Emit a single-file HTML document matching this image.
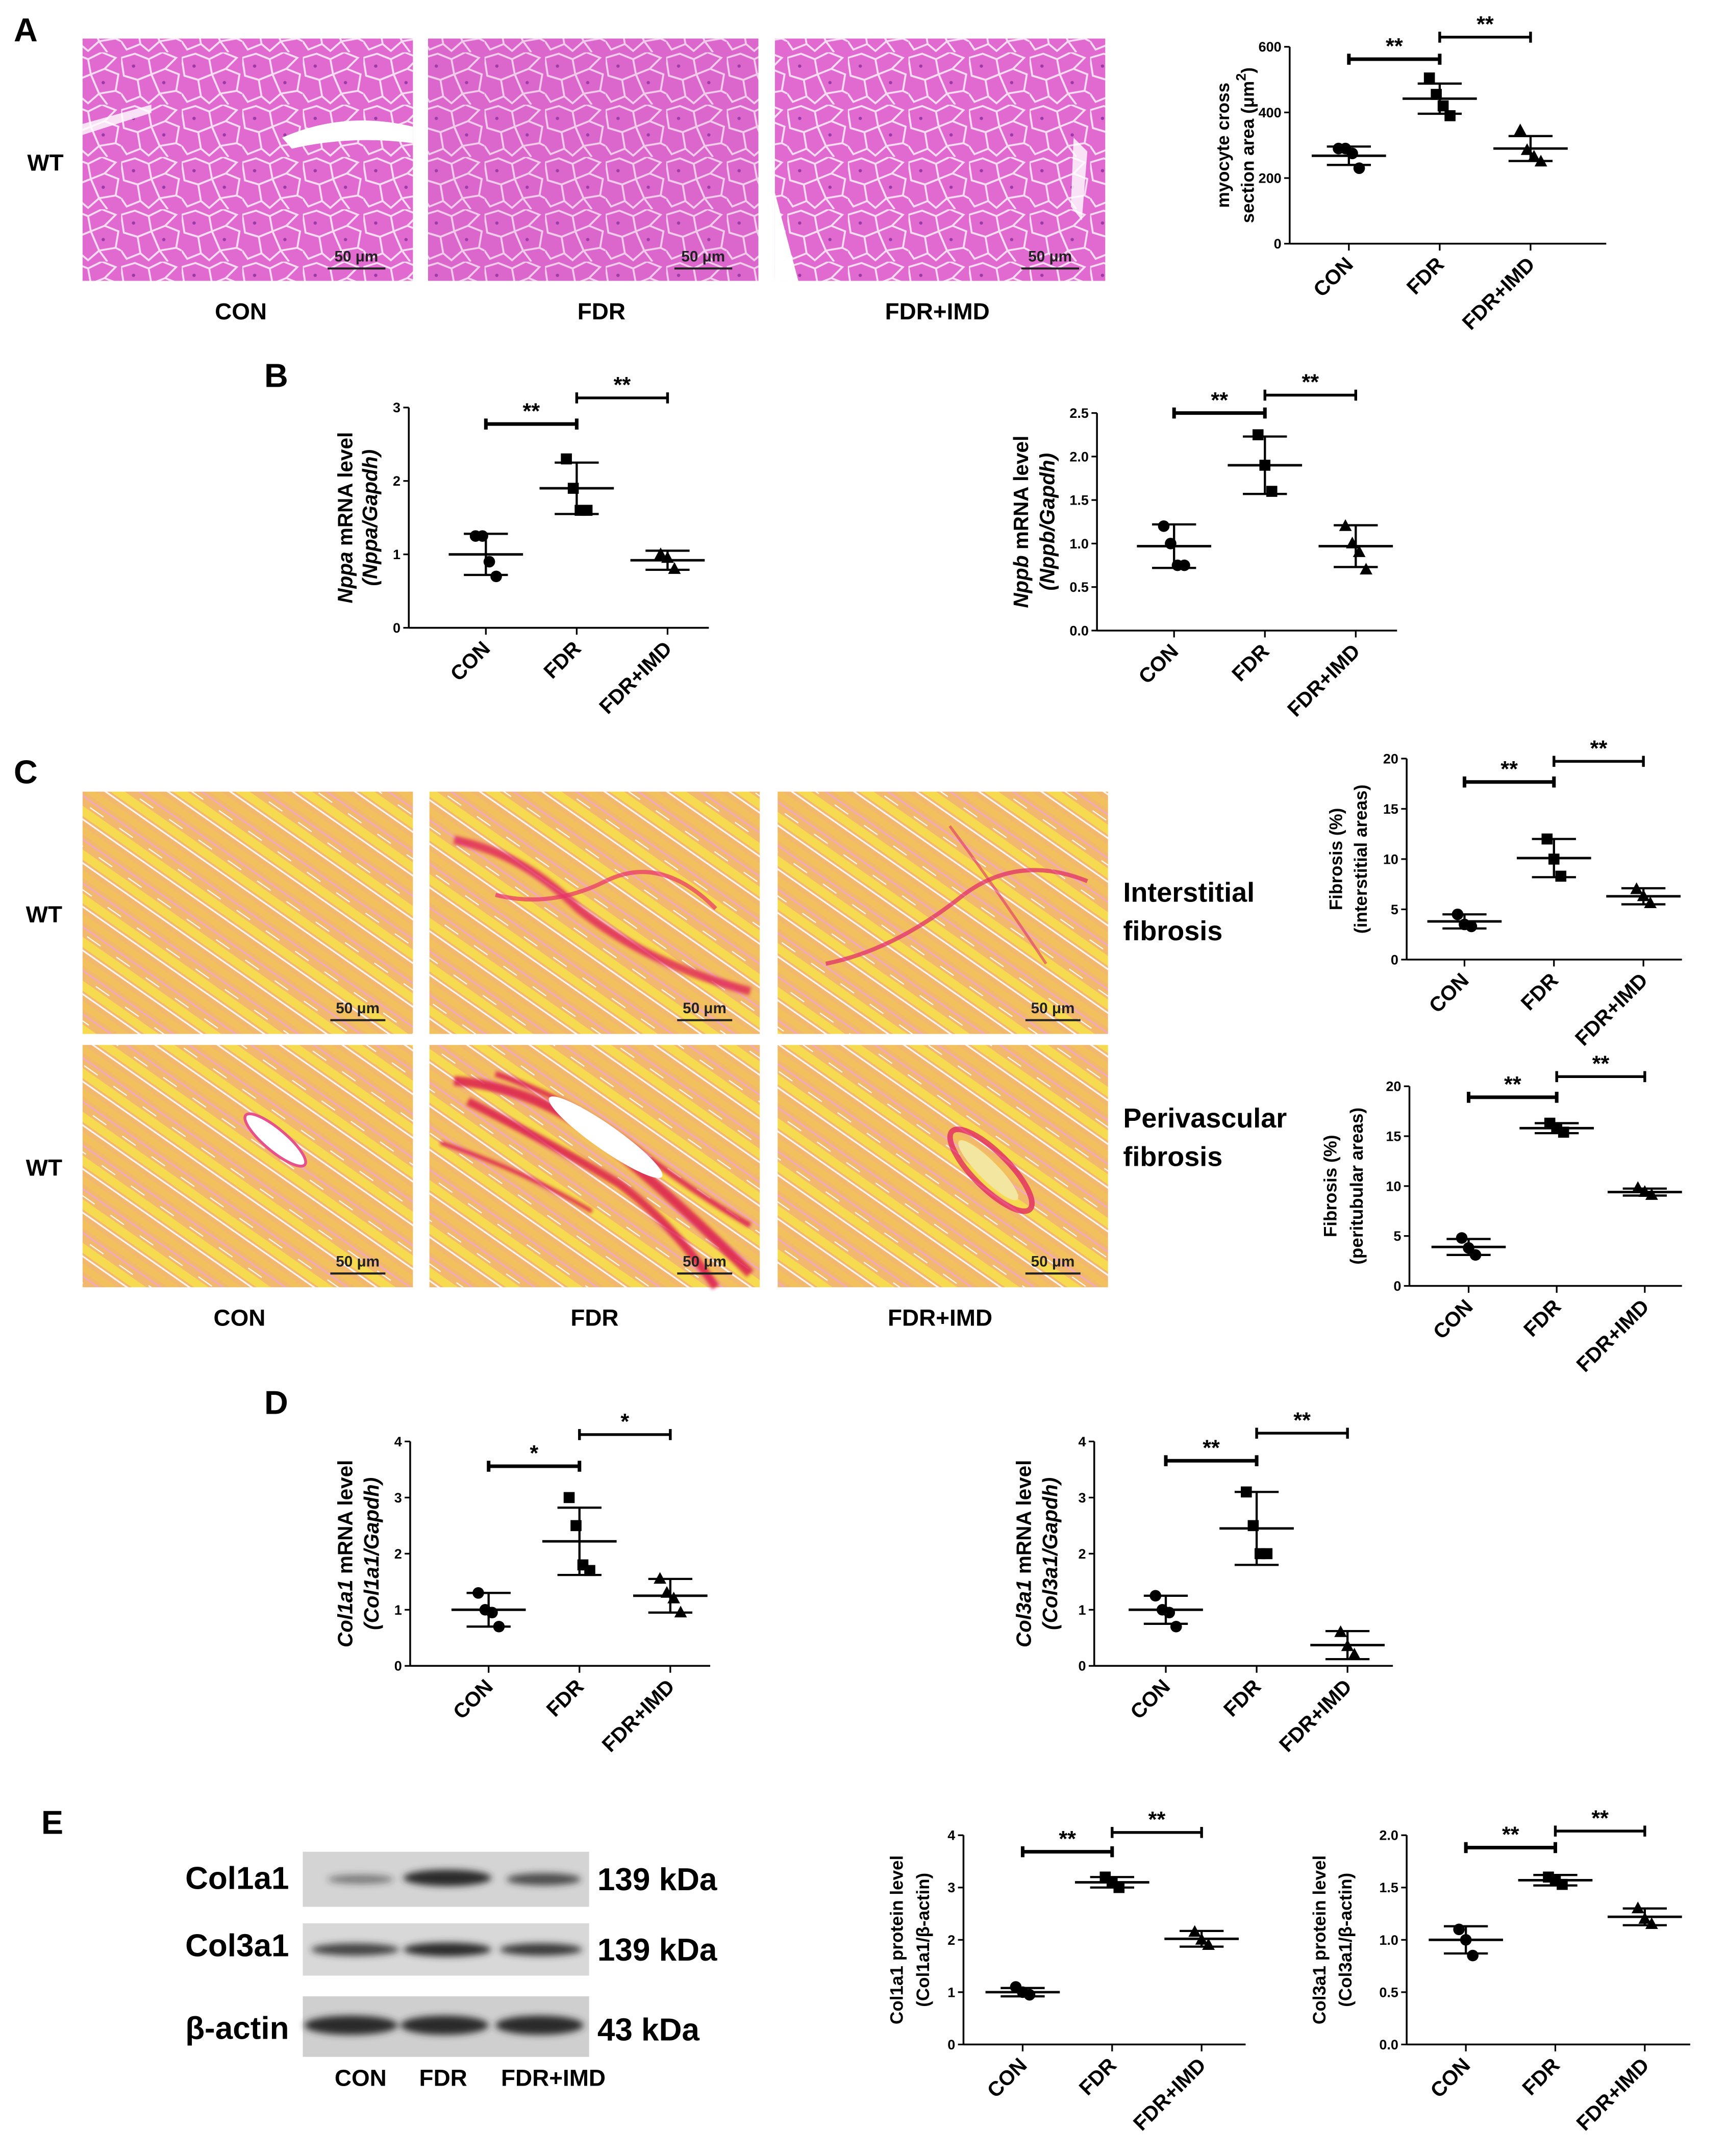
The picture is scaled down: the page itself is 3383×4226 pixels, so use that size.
<!DOCTYPE html>
<html><head><meta charset="utf-8">
<style>
html,body{margin:0;padding:0;background:#fff;}
svg{display:block;}
text{font-family:"Liberation Sans",Arial,sans-serif;}
</style></head>
<body>
<svg id="fig" width="3383" height="4226" viewBox="0 0 1254 1566" preserveAspectRatio="none" xmlns="http://www.w3.org/2000/svg">
<defs>
  <pattern id="he" width="44" height="38" patternUnits="userSpaceOnUse">
    <rect width="44" height="38" fill="#e06ad0"/>
    <g fill="none" stroke="#f8dcf2" stroke-width="1.4">
      <path d="M0 4 L10 1 L20 5 L22 16 L12 20 L2 17 Z"/>
      <path d="M22 16 L32 12 L42 16 L40 28 L28 30 Z"/>
      <path d="M20 5 L30 0 L40 4 L32 12"/>
      <path d="M2 17 L12 20 L14 32 L4 36 L0 30"/>
      <path d="M12 20 L22 16 L28 30 L20 37 L14 32"/>
      <path d="M40 28 L44 30 M28 30 L34 38"/>
    </g>
    <circle cx="9" cy="10" r="1.2" fill="#9a3aa8"/><circle cx="31" cy="22" r="1.2" fill="#9a3aa8"/>
  </pattern>
  <pattern id="sr" width="26" height="26" patternUnits="userSpaceOnUse" patternTransform="rotate(35)">
    <rect width="26" height="26" fill="#f1b86e"/>
    <rect x="0" y="3" width="26" height="6" fill="#f8e34a" opacity="0.8"/>
    <rect x="0" y="15" width="26" height="5" fill="#f4c25a" opacity="0.8"/>
    <line x1="0" y1="11" x2="26" y2="11" stroke="#fff4f4" stroke-width="1.2"/>
    <line x1="0" y1="23" x2="26" y2="23" stroke="#f2a7c8" stroke-width="1"/>
    <line x1="0" y1="1" x2="12" y2="1" stroke="#fff" stroke-width="0.8"/>
  </pattern>
  <filter id="blur2"><feGaussianBlur stdDeviation="2.5"/></filter>
  <filter id="blur1"><feGaussianBlur stdDeviation="1.2"/></filter>
</defs>

<text x="10" y="30" font-size="24" font-weight="bold">A</text>
<text x="192" y="281" font-size="24" font-weight="bold">B</text>
<text x="10" y="569" font-size="24" font-weight="bold">C</text>
<text x="192" y="1027" font-size="24" font-weight="bold">D</text>
<text x="30" y="1332" font-size="24" font-weight="bold">E</text>

<g>
  <rect x="60" y="28" width="240" height="176" fill="url(#he)"/>
  <path d="M205 100 Q250 80 300 92 L300 104 Q255 98 212 108 Z" fill="#fff"/>
  <path d="M60 90 L110 76 L110 82 L60 98 Z" fill="#fff" opacity="0.8"/>
  <rect x="311" y="28" width="240" height="176" fill="url(#he)"/>
  <rect x="311" y="28" width="240" height="176" fill="#c050b8" opacity="0.12"/>
  <rect x="563" y="28" width="240" height="176" fill="url(#he)"/>
  <path d="M563 140 L580 204 L563 204 Z" fill="#fff"/>
  <path d="M780 100 L790 110 L786 160 L778 150 Z" fill="#fff" opacity="0.8"/>
  <g font-family="Liberation Serif" font-size="11" font-weight="bold" fill="#222">
    <text x="243" y="190">50 μm</text><line x1="238" y1="195" x2="280" y2="195" stroke="#222" stroke-width="1.5"/>
    <text x="495" y="190">50 μm</text><line x1="490" y1="195" x2="532" y2="195" stroke="#222" stroke-width="1.5"/>
    <text x="747" y="190">50 μm</text><line x1="742" y1="195" x2="784" y2="195" stroke="#222" stroke-width="1.5"/>
  </g>
</g>
<g font-size="17" font-weight="bold" text-anchor="middle">
  <text x="33" y="124">WT</text>
  <text x="175" y="232">CON</text>
  <text x="437" y="232">FDR</text>
  <text x="681" y="232">FDR+IMD</text>
</g>

<g>
  <rect x="60" y="575" width="240" height="176" fill="url(#sr)"/>
  <rect x="312" y="575" width="240" height="176" fill="url(#sr)"/>
  <path d="M330 610 Q380 620 420 660 Q470 700 545 720" stroke="#e0205a" stroke-width="6" fill="none" opacity="0.8" filter="url(#blur1)"/>
  <path d="M360 650 Q400 660 440 640 Q480 620 520 660" stroke="#e8306a" stroke-width="3" fill="none" opacity="0.7"/>
  <rect x="565" y="575" width="240" height="176" fill="url(#sr)"/>
  <path d="M600 700 Q650 690 700 650 Q740 620 790 640" stroke="#e0306a" stroke-width="3" fill="none" opacity="0.75"/>
  <path d="M690 600 Q720 640 760 700" stroke="#e0306a" stroke-width="2" fill="none" opacity="0.6"/>
  <rect x="60" y="759" width="240" height="176" fill="url(#sr)"/>
  <ellipse cx="200" cy="828" rx="28" ry="8" transform="rotate(40 200 828)" fill="#fff" stroke="#e8508a" stroke-width="2"/>
  <rect x="312" y="759" width="240" height="176" fill="url(#sr)"/>
  <g stroke="#dc1c50" fill="none" opacity="0.85" filter="url(#blur1)">
    <path d="M330 785 Q390 790 440 830 Q490 870 545 925" stroke-width="7"/>
    <path d="M340 800 Q400 830 450 860 Q490 890 520 935" stroke-width="6"/>
    <path d="M360 780 Q420 800 470 840 Q510 870 545 890" stroke-width="4"/>
    <path d="M320 830 Q380 850 430 880" stroke-width="3"/>
  </g>
  <ellipse cx="440" cy="826" rx="50" ry="9" transform="rotate(35 440 826)" fill="#fff"/>
  <rect x="565" y="759" width="240" height="176" fill="url(#sr)"/>
  <ellipse cx="720" cy="850" rx="40" ry="13" transform="rotate(45 720 850)" fill="none" stroke="#e02060" stroke-width="4" opacity="0.75"/>
  <ellipse cx="718" cy="850" rx="30" ry="7" transform="rotate(45 718 850)" fill="#f2e6a0"/>
  <g font-family="Liberation Serif" font-size="11" font-weight="bold" fill="#222">
    <text x="244" y="736">50 μm</text><line x1="240" y1="741" x2="280" y2="741" stroke="#222" stroke-width="1.5"/>
    <text x="496" y="736">50 μm</text><line x1="492" y1="741" x2="532" y2="741" stroke="#222" stroke-width="1.5"/>
    <text x="749" y="736">50 μm</text><line x1="745" y1="741" x2="785" y2="741" stroke="#222" stroke-width="1.5"/>
    <text x="244" y="920">50 μm</text><line x1="240" y1="925" x2="280" y2="925" stroke="#222" stroke-width="1.5"/>
    <text x="496" y="920">50 μm</text><line x1="492" y1="925" x2="532" y2="925" stroke="#222" stroke-width="1.5"/>
    <text x="749" y="920">50 μm</text><line x1="745" y1="925" x2="785" y2="925" stroke="#222" stroke-width="1.5"/>
  </g>
</g>
<g font-size="17" font-weight="bold">
  <text x="32" y="670" text-anchor="middle">WT</text>
  <text x="32" y="854" text-anchor="middle">WT</text>
  <text x="174" y="963" text-anchor="middle">CON</text>
  <text x="432" y="963" text-anchor="middle">FDR</text>
  <text x="683" y="963" text-anchor="middle">FDR+IMD</text>
  <text x="816" y="655" font-size="20">Interstitial</text>
  <text x="816" y="683" font-size="20">fibrosis</text>
  <text x="816" y="819" font-size="20">Perivascular</text>
  <text x="816" y="847" font-size="20">fibrosis</text>
</g>

<g>
  <rect x="220" y="1345" width="208" height="40" fill="#d4d4d4"/>
  <rect x="220" y="1397" width="208" height="38" fill="#d8d8d8"/>
  <rect x="220" y="1450" width="208" height="44" fill="#cfcfcf"/>
  <g fill="#2a2a2a" filter="url(#blur2)">
    <ellipse cx="262" cy="1365" rx="24" ry="3.5" opacity="0.5"/>
    <ellipse cx="325" cy="1364" rx="32" ry="6"/>
    <ellipse cx="395" cy="1365" rx="27" ry="4.5" opacity="0.8"/>
    <ellipse cx="258" cy="1416" rx="32" ry="4.5" opacity="0.85"/>
    <ellipse cx="325" cy="1416" rx="32" ry="5"/>
    <ellipse cx="393" cy="1416" rx="30" ry="4.5" opacity="0.9"/>
    <ellipse cx="255" cy="1471" rx="34" ry="7"/>
    <ellipse cx="323" cy="1471" rx="32" ry="7"/>
    <ellipse cx="392" cy="1471" rx="32" ry="7"/>
  </g>
  <g font-size="23" font-weight="bold">
    <text x="210" y="1372" text-anchor="end">Col1a1</text>
    <text x="210" y="1421" text-anchor="end">Col3a1</text>
    <text x="210" y="1481" text-anchor="end">β-actin</text>
    <text x="434" y="1373">139 kDa</text>
    <text x="434" y="1424">139 kDa</text>
    <text x="434" y="1482">43 kDa</text>
  </g>
  <g font-size="17" font-weight="bold" text-anchor="middle">
    <text x="262" y="1515">CON</text><text x="322" y="1515">FDR</text><text x="402" y="1515">FDR+IMD</text>
  </g>
</g>
<g id="charts"></g>
</svg>
<script>
// ---- chart data ----
const categories = ["CON", "FDR", "FDR+IMD"];
const areaPoints = [[290, 290, 275, 230], [505, 455, 420, 390], [345, 285, 265, 250]];
const areaMeans = [268, 442, 290];
const areaSds = [28, 46, 38];
const nppaPoints = [[1.25, 1.25, 0.9, 0.7], [2.3, 1.9, 1.6, 1.6], [1.0, 0.95, 0.8]];
const nppaMeans = [1.0, 1.9, 0.92];
const nppaSds = [0.28, 0.35, 0.13];
const nppbPoints = [[1.2, 1.0, 0.75, 0.75], [2.25, 1.9, 1.6], [1.2, 1.0, 0.9, 0.7]];
const nppbMeans = [0.97, 1.9, 0.97];
const nppbSds = [0.25, 0.33, 0.24];
const interPoints = [[4.5, 3.5, 3.3], [12, 10, 8.3], [7, 6.3, 5.6]];
const interMeans = [3.8, 10.1, 6.3];
const interSds = [0.7, 1.9, 0.8];
const periPoints = [[4.8, 3.8, 3.1], [16.3, 15.8, 15.4], [9.8, 9.4, 9.1]];
const periMeans = [3.9, 15.8, 9.4];
const periSds = [0.8, 0.5, 0.35];
const col1Points = [[1.3, 1.0, 0.95, 0.7], [3.0, 2.5, 1.8, 1.7], [1.55, 1.3, 1.2, 0.95]];
const col1Means = [1.0, 2.22, 1.25];
const col1Sds = [0.3, 0.6, 0.3];
const col3Points = [[1.25, 1.0, 0.95, 0.7], [3.1, 2.5, 2.0, 2.0], [0.6, 0.35, 0.2]];
const col3Means = [1.0, 2.45, 0.37];
const col3Sds = [0.25, 0.65, 0.25];
const p1Points = [[1.1, 1.0, 0.95], [3.2, 3.1, 3.0], [2.15, 2.0, 1.9]];
const p1Means = [1.0, 3.1, 2.02];
const p1Sds = [0.08, 0.1, 0.15];
const p3Points = [[1.1, 1.0, 0.85], [1.6, 1.57, 1.53], [1.3, 1.2, 1.15]];
const p3Means = [1.0, 1.57, 1.22];
const p3Sds = [0.13, 0.05, 0.08];
const ticks600 = [0, 200, 400, 600];
const ticks3 = [0, 1, 2, 3];
const ticks25 = [0.0, 0.5, 1.0, 1.5, 2.0, 2.5];
const ticks20 = [0, 5, 10, 15, 20];
const ticks4 = [0, 1, 2, 3, 4];
const ticks2 = [0.0, 0.5, 1.0, 1.5, 2.0];

const NS = "http://www.w3.org/2000/svg";
const root = document.getElementById("charts");
function mk(tag, attrs, parent) {
  const e = document.createElementNS(NS, tag);
  for (const k in attrs) e.setAttribute(k, attrs[k]);
  parent.appendChild(e);
  return e;
}

function chart(name, L, points, means, sds, ticks, dec, ylab, sig) {
  const g = mk("g", {}, root);
  
  
  const max = ticks[ticks.length - 1];
  const y = v => L.yB - (v / max) * (L.yB - L.yT);
  const x = i => L.x0 + L.off + i * L.step;
  const yAxis = mk("line", {x1: L.x0, y1: L.yT, x2: L.x0, y2: L.yB, stroke: "#000", "stroke-width": 1.3}, g);
  
  
  const xAxis = mk("line", {x1: L.x0, y1: L.yB, x2: L.xEnd, y2: L.yB, stroke: "#000", "stroke-width": 1.3}, g);
  
  
  ticks.forEach(t => {
    mk("line", {x1: L.x0 - 4, y1: y(t), x2: L.x0, y2: y(t), stroke: "#000", "stroke-width": 1.2}, g);
    const tl = mk("text", {x: L.x0 - 6, y: y(t) + 3.5, "font-size": 10, "font-weight": "bold", "text-anchor": "end"}, g);
    tl.textContent = dec ? t.toFixed(1) : String(t);
    
    
  });
  categories.forEach((c, i) => {
    mk("line", {x1: x(i), y1: L.yB, x2: x(i), y2: L.yB + 5, stroke: "#000", "stroke-width": 1.2}, g);
    const cl = mk("text", {x: x(i) + 4, y: L.yB + 16, "font-size": 15, "font-weight": "bold", "text-anchor": "end",
      transform: `rotate(-45 ${x(i) + 4} ${L.yB + 16})`}, g);
    cl.textContent = c;
    
    
    const cx = x(i);
    const m = mk("line", {x1: cx - 27, y1: y(means[i]), x2: cx + 27, y2: y(means[i]), stroke: "#000", "stroke-width": 1.8}, g);
    
    
    const hi = y(means[i] + sds[i]), lo = y(Math.max(0, means[i] - sds[i]));
    const eb = mk("path", {d: `M${cx} ${hi} V${lo} M${cx - 16} ${hi} H${cx + 16} M${cx - 16} ${lo} H${cx + 16}`, stroke: "#000", "stroke-width": 1.6, fill: "none"}, g);
    
    
    const n = points[i].length;
    points[i].forEach((v, j) => {
      const dx = (j - (n - 1) / 2) * 5;
      const px = cx + dx, py = y(v);
      let p;
      if (i === 0) p = mk("circle", {cx: px, cy: py, r: 4.2, fill: "#000"}, g);
      else if (i === 1) p = mk("rect", {x: px - 4, y: py - 4, width: 8, height: 8, fill: "#000"}, g);
      else p = mk("path", {d: `M${px} ${py - 5} L${px + 4.6} ${py + 3.5} L${px - 4.6} ${py + 3.5} Z`, fill: "#000"}, g);
      
      
    });
  });
  const lab = mk("text", {transform: `translate(${L.lx1} ${(L.yT + L.yB) / 2}) rotate(-90)`, "font-size": L.lfs, "font-weight": "bold", "text-anchor": "middle"}, g);
  lab.innerHTML = ylab[0];
  
  
  const lab2 = mk("text", {transform: `translate(${L.lx2} ${(L.yT + L.yB) / 2}) rotate(-90)`, "font-size": L.lfs, "font-weight": "bold", "text-anchor": "middle"}, g);
  lab2.innerHTML = ylab[1];
  
  
  sig.forEach((s, k) => {
    const a = x(s[0]), b = x(s[1]);
    const sb = mk("path", {d: `M${a} ${s[2] - 4} V${s[2] + 4} M${a} ${s[2]} H${b} M${b} ${s[2] - 4} V${s[2] + 4}`, stroke: "#000", "stroke-width": k === 0 ? 2.6 : 2, fill: "none"}, g);
    
    
    const st = mk("text", {x: (a + b) / 2, y: s[2] - 4, "font-size": 16, "font-weight": "bold", "text-anchor": "middle"}, g);
    st.textContent = s[3];
    
    
  });
}

chart("chart-myocyte-area", {x0: 937, xEnd: 1167, yT: 34, yB: 177, off: 43, step: 66, lx1: 893, lx2: 911, lfs: 13},
  areaPoints, areaMeans, areaSds, ticks600, false,
  ["myocyte cross", "section area (μm<tspan dy='-6' font-size='10'>2</tspan><tspan dy='6'>)</tspan>"],
  [[0, 1, 43, "**"], [1, 2, 27, "**"]]);
chart("chart-nppa", {x0: 297, xEnd: 515, yT: 296, yB: 456, off: 56, step: 66, lx1: 256, lx2: 274, lfs: 15},
  nppaPoints, nppaMeans, nppaSds, ticks3, false,
  ["<tspan font-style='italic'>Nppa</tspan> mRNA level", "<tspan font-style='italic'>(Nppa/Gapdh)</tspan>"],
  [[0, 1, 308, "**"], [1, 2, 289, "**"]]);
chart("chart-nppb", {x0: 797, xEnd: 1015, yT: 300, yB: 458, off: 56, step: 66, lx1: 747, lx2: 766, lfs: 15},
  nppbPoints, nppbMeans, nppbSds, ticks25, true,
  ["<tspan font-style='italic'>Nppb</tspan> mRNA level", "<tspan font-style='italic'>(Nppb/Gapdh)</tspan>"],
  [[0, 1, 300, "**"], [1, 2, 287, "**"]]);
chart("chart-interstitial-fibrosis", {x0: 1022, xEnd: 1222, yT: 551, yB: 697, off: 42, step: 65, lx1: 975, lx2: 993, lfs: 13},
  interPoints, interMeans, interSds, ticks20, false,
  ["Fibrosis (%)", "(interstitial areas)"],
  [[0, 1, 568, "**"], [1, 2, 553, "**"]]);
chart("chart-perivascular-fibrosis", {x0: 1024, xEnd: 1222, yT: 789, yB: 934, off: 43, step: 64, lx1: 971, lx2: 990, lfs: 13},
  periPoints, periMeans, periSds, ticks20, false,
  ["Fibrosis (%)", "(peritubular areas)"],
  [[0, 1, 797, "**"], [1, 2, 782, "**"]]);
chart("chart-col1a1-mrna", {x0: 298, xEnd: 516, yT: 1047, yB: 1210, off: 57, step: 66, lx1: 256, lx2: 275, lfs: 15},
  col1Points, col1Means, col1Sds, ticks4, false,
  ["<tspan font-style='italic'>Col1a1</tspan> mRNA level", "<tspan font-style='italic'>(Col1a1/Gapdh)</tspan>"],
  [[0, 1, 1065, "*"], [1, 2, 1042, "*"]]);
chart("chart-col3a1-mrna", {x0: 795, xEnd: 1012, yT: 1047, yB: 1210, off: 52, step: 66, lx1: 749, lx2: 768, lfs: 15},
  col3Points, col3Means, col3Sds, ticks4, false,
  ["<tspan font-style='italic'>Col3a1</tspan> mRNA level", "<tspan font-style='italic'>(Col3a1/Gapdh)</tspan>"],
  [[0, 1, 1061, "**"], [1, 2, 1041, "**"]]);
chart("chart-col1a1-protein", {x0: 700, xEnd: 905, yT: 1333, yB: 1485, off: 43, step: 65, lx1: 656, lx2: 675, lfs: 13},
  p1Points, p1Means, p1Sds, ticks4, false,
  ["Col1a1 protein level", "(Col1a1/β-actin)"],
  [[0, 1, 1345, "**"], [1, 2, 1331, "**"]]);
chart("chart-col3a1-protein", {x0: 1022, xEnd: 1228, yT: 1333, yB: 1485, off: 43, step: 65, lx1: 963, lx2: 982, lfs: 13},
  p3Points, p3Means, p3Sds, ticks2, true,
  ["Col3a1 protein level", "(Col3a1/β-actin)"],
  [[0, 1, 1342, "**"], [1, 2, 1330, "**"]]);
</script>
</body></html>
